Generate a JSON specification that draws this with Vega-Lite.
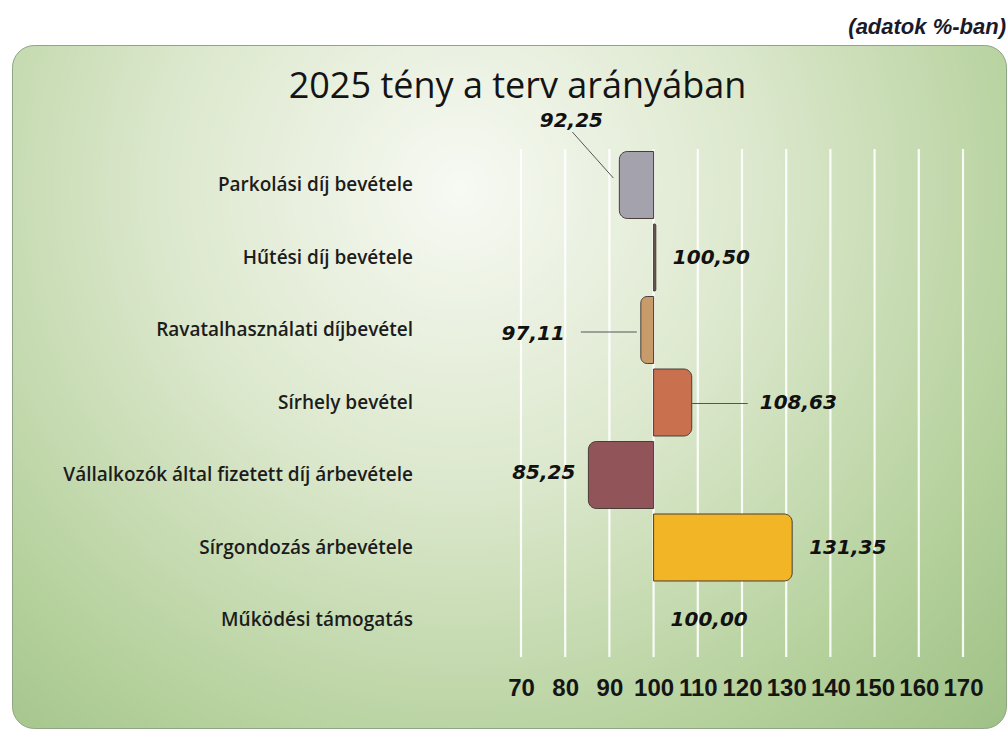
{
  "$schema": "https://vega.github.io/schema/vega-lite/v6.json",
  "width": 994,
  "height": 683,
  "autosize": {"type": "none"},
  "padding": {"left": 12, "top": 45, "right": 2, "bottom": 8},
  "background": "#ffffff",
  "title": {"text": "(adatok %-ban)", "anchor": "end", "frame": "group", "orient": "top", "offset": -11, "baseline": "alphabetic",
    "font": "Liberation Sans", "fontSize": 22, "fontWeight": "bold", "fontStyle": "italic", "color": "#1a1a2a"},
  "config": {
    "locale": {"number": {"decimal": ",", "thousands": " ", "grouping": [3], "currency": ["", " Ft"]}},
    "view": {
      "fill": {"gradient": "radial", "x1": 0.45, "y1": 0.3, "r1": 0, "x2": 0.45, "y2": 0.3, "r2": 0.85,
        "stops": [
          {"offset": 0, "color": "#f7f9f3"},
          {"offset": 0.35, "color": "#dce8cd"},
          {"offset": 0.7, "color": "#b4d09b"},
          {"offset": 1, "color": "#95ba7d"}
        ]},
      "stroke": "#8fa586",
      "strokeWidth": 1,
      "cornerRadius": 22
    }
  },
  "datasets": {
    "bars": [
      {"kat": "Parkolási díj bevétele", "ertek": 92.25},
      {"kat": "Hűtési díj bevétele", "ertek": 100.5},
      {"kat": "Ravatalhasználati díjbevétel", "ertek": 97.11},
      {"kat": "Sírhely bevétel", "ertek": 108.63},
      {"kat": "Vállalkozók által fizetett díj árbevétele", "ertek": 85.25},
      {"kat": "Sírgondozás árbevétele", "ertek": 131.35},
      {"kat": "Működési támogatás", "ertek": 100}
    ],
    "grid": [{"g": 70}, {"g": 80}, {"g": 90}, {"g": 100}, {"g": 110}, {"g": 120}, {"g": 130}, {"g": 140}, {"g": 150}, {"g": 160}, {"g": 170}]
  },
  "data": {"name": "bars"},
  "resolve": {"axis": {"x": "independent"}},
  "layer": [
    {
      "data": {"name": "grid"},
      "mark": {"type": "rule", "color": "#ffffff", "strokeWidth": 2.2, "opacity": 0.9, "yOffset": -36, "y2Offset": 37},
      "encoding": {
        "x": {"field": "g", "type": "quantitative",
          "scale": {"domain": [-45.16, 179.73], "nice": false, "zero": false},
          "axis": {"orient": "top", "title": "2025 tény a terv arányában", "labels": false, "ticks": false, "domain": false, "grid": false,
            "titleX": 505, "titleY": 52, "titleAlign": "center", "titleBaseline": "alphabetic", "titleAnchor": null,
            "titleFont": "Open Sans", "titleFontSize": 36, "titleFontWeight": "normal", "titleColor": "#141414"}},
        "y": {"datum": "Parkolási díj bevétele", "type": "nominal",
          "scale": {"type": "band", "domain": ["Parkolási díj bevétele", "Hűtési díj bevétele", "Ravatalhasználati díjbevétel", "Sírhely bevétel", "Vállalkozók által fizetett díj árbevétele", "Sírgondozás árbevétele", "Működési támogatás"], "range": [103.75, 611.25], "paddingInner": 0.076, "paddingOuter": 0.038},
          "axis": null},
        "y2": {"datum": "Működési támogatás"}
      }
    },
    {
      "mark": {"type": "text", "font": "Open Sans", "fontSize": 19, "fontWeight": 600, "color": "#1c1c1c", "align": "right", "baseline": "middle", "dx": -108},
      "encoding": {
        "x": {"datum": 70, "type": "quantitative", "axis": null},
        "y": {"field": "kat", "type": "nominal", "axis": null},
        "text": {"field": "kat", "type": "nominal"}
      }
    },
    {
      "transform": [{"filter": "datum.ertek >= 100"}],
      "mark": {"type": "bar", "cornerRadiusTopRight": 8, "cornerRadiusBottomRight": 8, "stroke": "#4a3c38"},
      "encoding": {
        "x": {"field": "ertek", "type": "quantitative",
          "axis": {"orient": "bottom", "values": [70, 80, 90, 100, 110, 120, 130, 140, 150, 160, 170], "title": null, "grid": false, "domain": false, "ticks": false,
            "offset": -52, "labelPadding": 0, "labelFont": "Liberation Sans", "labelFontSize": 24, "labelFontWeight": "bold", "labelColor": "#151515",
            "labelOverlap": false, "labelFlush": false, "labelBound": false}},
        "x2": {"datum": 100},
        "y": {"field": "kat", "type": "nominal", "axis": null},
        "color": {"field": "kat", "type": "nominal", "legend": null,
          "scale": {"domain": ["Parkolási díj bevétele", "Hűtési díj bevétele", "Ravatalhasználati díjbevétel", "Sírhely bevétel", "Vállalkozók által fizetett díj árbevétele", "Sírgondozás árbevétele", "Működési támogatás"],
            "range": ["#a3a2ad", "#6b5a50", "#c89b6a", "#c9714f", "#915458", "#f2b526", "#888888"]}},
        "strokeWidth": {"condition": {"test": "datum.ertek === 100", "value": 0}, "value": 1}
      }
    },
    {
      "transform": [{"filter": "datum.ertek < 100"}],
      "mark": {"type": "bar", "cornerRadiusTopLeft": 8, "cornerRadiusBottomLeft": 8, "stroke": "#4a3c38", "strokeWidth": 1},
      "encoding": {
        "x": {"field": "ertek", "type": "quantitative", "axis": null},
        "x2": {"datum": 100},
        "y": {"field": "kat", "type": "nominal", "axis": null},
        "color": {"field": "kat", "type": "nominal", "legend": null}
      }
    },
    {
      "transform": [{"filter": "datum.kat === 'Parkolási díj bevétele'"}],
      "mark": {"type": "rule", "color": "#555555", "strokeWidth": 1, "xOffset": -47, "yOffset": -53, "x2Offset": -6, "y2Offset": -7},
      "encoding": {
        "x": {"field": "ertek", "type": "quantitative", "axis": null},
        "x2": {"field": "ertek"},
        "y": {"field": "kat", "type": "nominal", "axis": null},
        "y2": {"field": "kat"}
      }
    },
    {
      "transform": [{"filter": "datum.kat === 'Ravatalhasználati díjbevétel'"}],
      "mark": {"type": "rule", "color": "#555555", "strokeWidth": 1, "xOffset": -60, "x2Offset": -4, "yOffset": 2},
      "encoding": {
        "x": {"field": "ertek", "type": "quantitative", "axis": null},
        "x2": {"field": "ertek"},
        "y": {"field": "kat", "type": "nominal", "axis": null}
      }
    },
    {
      "transform": [{"filter": "datum.kat === 'Sírhely bevétel'"}],
      "mark": {"type": "rule", "color": "#555555", "strokeWidth": 1, "xOffset": 0, "x2Offset": 56, "yOffset": 1},
      "encoding": {
        "x": {"field": "ertek", "type": "quantitative", "axis": null},
        "x2": {"field": "ertek"},
        "y": {"field": "kat", "type": "nominal", "axis": null}
      }
    },
    {
      "transform": [{"filter": "datum.kat === 'Parkolási díj bevétele'"}],
      "mark": {"type": "text", "font": "DejaVu Sans", "fontSize": 20, "fontWeight": "bold", "fontStyle": "italic", "color": "#111111", "align": "center", "baseline": "alphabetic", "dx": -48, "dy": -58},
      "encoding": {
        "x": {"field": "ertek", "type": "quantitative", "axis": null},
        "y": {"field": "kat", "type": "nominal", "axis": null},
        "text": {"field": "ertek", "type": "quantitative", "format": ".2f"}
      }
    },
    {
      "transform": [{"filter": "datum.kat === 'Hűtési díj bevétele' || datum.kat === 'Sírgondozás árbevétele' || datum.kat === 'Működési támogatás'"}],
      "mark": {"type": "text", "font": "DejaVu Sans", "fontSize": 20, "fontWeight": "bold", "fontStyle": "italic", "color": "#111111", "align": "left", "baseline": "middle", "dx": 17},
      "encoding": {
        "x": {"field": "ertek", "type": "quantitative", "axis": null},
        "y": {"field": "kat", "type": "nominal", "axis": null},
        "text": {"field": "ertek", "type": "quantitative", "format": ".2f"}
      }
    },
    {
      "transform": [{"filter": "datum.kat === 'Sírhely bevétel'"}],
      "mark": {"type": "text", "font": "DejaVu Sans", "fontSize": 20, "fontWeight": "bold", "fontStyle": "italic", "color": "#111111", "align": "left", "baseline": "middle", "dx": 68},
      "encoding": {
        "x": {"field": "ertek", "type": "quantitative", "axis": null},
        "y": {"field": "kat", "type": "nominal", "axis": null},
        "text": {"field": "ertek", "type": "quantitative", "format": ".2f"}
      }
    },
    {
      "transform": [{"filter": "datum.kat === 'Ravatalhasználati díjbevétel'"}],
      "mark": {"type": "text", "font": "DejaVu Sans", "fontSize": 20, "fontWeight": "bold", "fontStyle": "italic", "color": "#111111", "align": "right", "baseline": "middle", "dx": -76, "dy": 4},
      "encoding": {
        "x": {"field": "ertek", "type": "quantitative", "axis": null},
        "y": {"field": "kat", "type": "nominal", "axis": null},
        "text": {"field": "ertek", "type": "quantitative", "format": ".2f"}
      }
    },
    {
      "transform": [{"filter": "datum.kat === 'Vállalkozók által fizetett díj árbevétele'"}],
      "mark": {"type": "text", "font": "DejaVu Sans", "fontSize": 20, "fontWeight": "bold", "fontStyle": "italic", "color": "#111111", "align": "right", "baseline": "middle", "dx": -13, "dy": -2},
      "encoding": {
        "x": {"field": "ertek", "type": "quantitative", "axis": null},
        "y": {"field": "kat", "type": "nominal", "axis": null},
        "text": {"field": "ertek", "type": "quantitative", "format": ".2f"}
      }
    }
  ]
}
